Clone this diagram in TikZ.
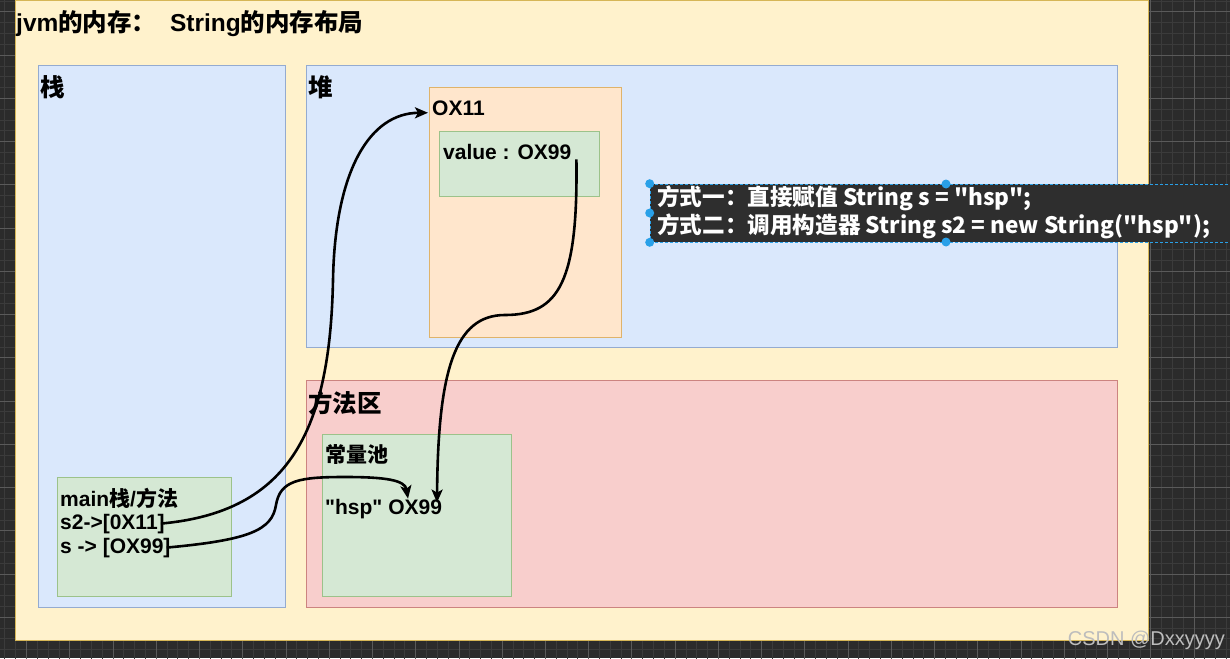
\documentclass[tikz,border=0pt]{standalone}
\usepackage{fontspec}
\setmainfont{Liberation Sans}
\newfontfamily\latin{Liberation Sans}
\newfontfamily\cjk{Noto Sans CJK SC}
\usetikzlibrary{arrows.meta,fit}
\newcommand{\zh}[1]{{\cjk #1}}
\definecolor{canvas}{HTML}{2B2B2B}
\definecolor{minorline}{HTML}{3B3B3B}
\definecolor{majorline}{HTML}{5A5A5A}
\definecolor{memfill}{HTML}{FFF2CC}
\definecolor{memline}{HTML}{D6B656}
\definecolor{stackfill}{HTML}{DAE8FC}
\definecolor{stackline}{HTML}{94ABD0}
\definecolor{objfill}{HTML}{FFE6CC}
\definecolor{objline}{HTML}{DFB36A}
\definecolor{cellfill}{HTML}{D5E8D4}
\definecolor{cellline}{HTML}{9CC28A}
\definecolor{methodfill}{HTML}{F8CECC}
\definecolor{methodline}{HTML}{CC8480}
\definecolor{tipfill}{HTML}{2E2E2E}
\definecolor{handleblue}{HTML}{29A0E8}
\definecolor{markgrey}{HTML}{BDBDBD}

\begin{document}
\begin{tikzpicture}[x=1pt,y=-1pt]
        \tikzset{area/.style={draw, line width=1pt, inner sep=0pt},
                 txt/.style={anchor=base west, inner sep=0pt, font=\latin\bfseries\fontsize{21}{25}\selectfont},
                 head/.style={txt, font=\latin\bfseries\fontsize{24.5}{28}\selectfont},
                 tiptxt/.style={anchor=base west, inner sep=0pt, text=white, font=\bfseries\fontsize{22.6}{26}\selectfont},
                 pointer/.style={line width=2.6pt, -{Stealth[length=13pt,width=11pt,inset=3pt]}},
                 handle/.style={circle, fill=handleblue, inner sep=0pt, minimum size=9pt}}
        \useasboundingbox (0,0) rectangle (1230,658);
        \fill[canvas] (0,0) rectangle (1230,658);
        \draw[minorline, line width=0.8pt, step=10.81pt, shift={(26.5,11.9)}] (-40,-20) grid (1210,650);
        \draw[majorline, line width=0.8pt, step=43.24pt, shift={(26.5,11.9)}] (-40,-20) grid (1210,650);
        \node [area, fill=memfill, draw=memline, fit={(15,1) (1148,640)}]          (jvm)    {};
        \node [area, fill=stackfill, draw=stackline, fit={(38,66) (285,607)}]      (stack)  {};
        \node [area, fill=stackfill, draw=stackline, fit={(306,66) (1117,347)}]    (heap)   {};
        \node [area, fill=objfill, draw=objline, fit={(429,88) (621,337)}]         (obj)    {};
        \node [area, fill=cellfill, draw=cellline, fit={(439,131) (599,196)}]      (value)  {};
        \node [area, fill=methodfill, draw=methodline, fit={(306,380) (1117,607)}] (method) {};
        \node [area, fill=cellfill, draw=cellline, fit={(322,434) (511,596)}]      (pool)   {};
        \node [area, fill=cellfill, draw=cellline, fit={(57,477) (231,596)}]       (frame)  {};
        \node [head] (title)     at (16,32)   {jvm\zh{的内存：}\ \ String\zh{的内存布局}};
        \node [head] (stacklbl)  at (40,97)   {\zh{栈}};
        \node [head] (heaplbl)   at (308,97)  {\zh{堆}};
        \node [head] (methodlbl) at (308,412) {\zh{方法区}};
        \node [txt]  (objaddr)   at (432,116) {OX11};
        \node [txt]  (field)     at (443,159) {value : OX99};
        \node [txt]  (poollbl)   at (325,462) {\zh{常量池}};
        \node [txt]  (literal)   at (325,514) {"hsp" OX99};
        \node [txt]  (framelbl)  at (60,506)  {main\zh{栈}/\zh{方法}};
        \node [txt]  (s2ref)     at (60,529)  {s2->[0X11]};
        \node [txt]  (sref)      at (60,553)  {s -> [OX99]};
        \draw [pointer] ([xshift=-4pt]s2ref.east) .. controls (290,512) and (330,430) .. (333,280)
                        .. controls (335,170) and (370,113) .. ([xshift=-4pt,yshift=-4pt]objaddr.west);
        \draw [pointer] ([xshift=-4pt]sref.east) .. controls (250,540) and (272,530) .. (276,505)
                        .. controls (280,480) and (300,477) .. (345,477)
                        .. controls (385,477) and (405,480) .. ([xshift=83pt]literal.north west);
        \draw [pointer] ([xshift=5pt]field.south east) .. controls (578,280) and (560,315) .. (505,315)
                        .. controls (455,315) and (438,370) .. ([xshift=112pt,yshift=-4pt]literal.north west);
        \node [fill=tipfill, draw=handleblue, densely dashed, line width=0.6pt, inner sep=0pt,
               fit={(650,184) (1240,242)}] (tip) {};
        \node [tiptxt] (way1) at (657,205) {\zh{方式一：直接赋值 String s = "hsp";}};
        \node [tiptxt] (way2) at (657,233) {\zh{方式二：调用构造器 String s2 = new String("hsp");}};
        \node [handle] (nw) at (tip.north west) {};
        \node [handle] (w)  at (tip.west) {};
        \node [handle] (sw) at (tip.south west) {};
        \node [handle] (n)  at (946,184) {};
        \node [handle] (s)  at (946,242) {};
        \node [anchor=base east, inner sep=0pt, text=markgrey, font=\latin\fontsize{20}{24}\selectfont]
              (csdn) at (1225,645) {CSDN @Dxxyyyy};
    \end{tikzpicture}
\end{document}
